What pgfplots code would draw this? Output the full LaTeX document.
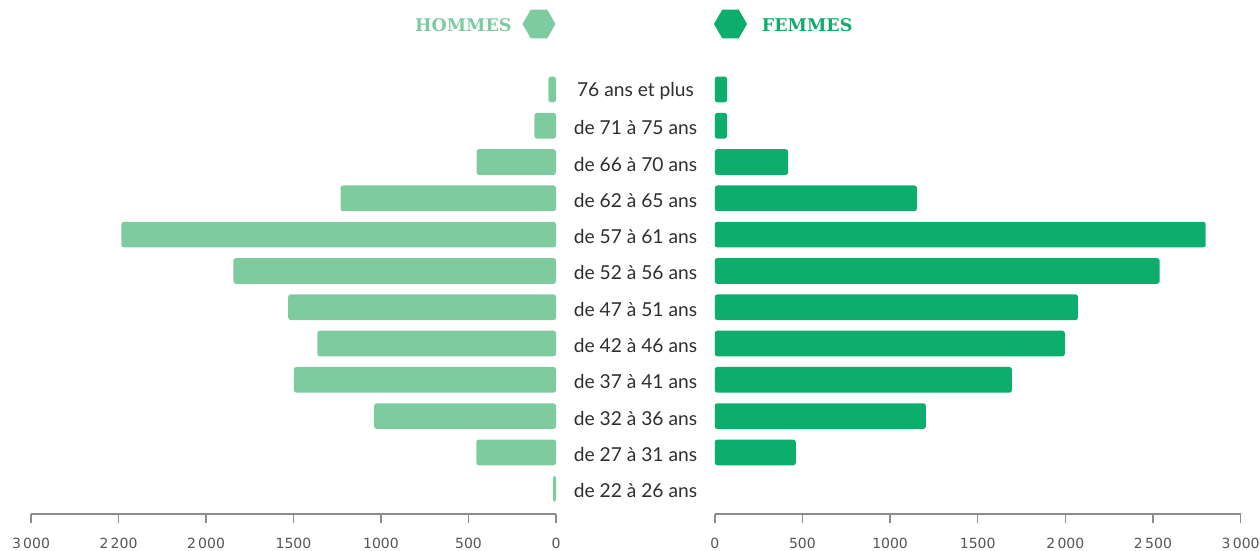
\documentclass[border=0pt]{standalone}
\usepackage{fontspec}
\setmainfont{Lato}
\newfontfamily\slab{DejaVu Serif}
\newfontfamily\tickfont{DejaVu Sans}
\newcommand\tl[1]{{\tickfont\fontsize{14}{14}\selectfont #1}}
\usepackage{pgfplots}
\pgfplotsset{compat=1.18}
\usepackage{pgfplotstable}
\usetikzlibrary{shapes.geometric}
\definecolor{hom}{HTML}{7FCBA0}
\definecolor{fem}{HTML}{0BAE6A}
\definecolor{txt}{HTML}{2E2E2E}
\definecolor{axg}{HTML}{8C8C8C}
\definecolor{tickg}{HTML}{555555}

\pgfplotstableread{
i h f
0 18 0
1 455 462
2 1039 1204
3 1498 1695
4 1363 1997
5 1530 2072
6 1843 2538
7 2483 2801
8 1231 1153
9 454 419
10 123 70
11 43 70
}\data

\pgfplotsset{
  pyr/.style={
    scale only axis, height=442.7pt,
    xmin=0, xmax=3000, ymin=-0.697, ymax=11.5,
    separate axis lines,
    axis x line*=bottom,
    axis y line*=left,
    y axis line style={draw=none},
    x axis line style={-, axg, line width=1.8pt},
    xtick={0,500,...,3000},
    tick align=outside,
    major tick length=9pt,
    xtick style={axg, line width=1.5pt},
    ytick style={draw=none},
    xticklabel style={text=tickg, anchor=north, inner sep=0pt, yshift=-14.5pt},
    clip=false,
  }
}

\begin{document}
\begin{tikzpicture}
\useasboundingbox (0,0) rectangle (1260pt,550pt);

\begin{axis}[pyr, at={(31pt,36pt)}, anchor=south west, width=525pt,
  x dir=reverse, ytick=\empty,
  xticklabels={\tl{0},\tl{500},\tl{1000},\tl{1500},\tl{2\,000},\tl{2\,200},\tl{3\,000}}]
  \addplot[xbar, bar shift=0pt, bar width=25.7pt, fill=hom, draw=none, rounded corners=2.5pt]
    table[x=h, y=i]{\data};
\end{axis}

\begin{axis}[pyr, at={(714.8pt,36pt)}, anchor=south west, width=525.8pt,
  ytick={0,...,11},
  yticklabels={de 22 à 26 ans,de 27 à 31 ans,de 32 à 36 ans,de 37 à 41 ans,de 42 à 46 ans,de 47 à 51 ans,de 52 à 56 ans,de 57 à 61 ans,de 62 à 65 ans,de 66 à 70 ans,de 71 à 75 ans,76 ans et plus},
  yticklabel style={anchor=center, xshift=-70.3pt, yshift=-2pt, font=\fontsize{19.2}{19.2}\selectfont, text=txt},
  xticklabels={\tl{0},\tl{500},\tl{1000},\tl{1500},\tl{2\,000},\tl{2\,500},\tl{3\,000}}]
  \addplot[xbar, bar shift=0pt, bar width=25.7pt, fill=fem, draw=none, rounded corners=2.5pt,
    restrict x to domain=0.5:4000]
    table[x=f, y=i]{\data};
\end{axis}

\node[regular polygon, regular polygon sides=6, minimum size=33pt, inner sep=0pt, fill=hom] at (539pt,526pt) {};
\node[regular polygon, regular polygon sides=6, minimum size=33pt, inner sep=0pt, fill=fem] at (730.5pt,526pt) {};
\node[anchor=base east, inner sep=0pt, text=hom, font=\slab\bfseries\fontsize{17.5}{17.5}\selectfont] at (511.7pt,518pt) {HOMMES};
\node[anchor=base west, inner sep=0pt, text=fem, font=\slab\bfseries\fontsize{17.5}{17.5}\selectfont] at (761.7pt,518pt) {FEMMES};
\end{tikzpicture}
\end{document}
